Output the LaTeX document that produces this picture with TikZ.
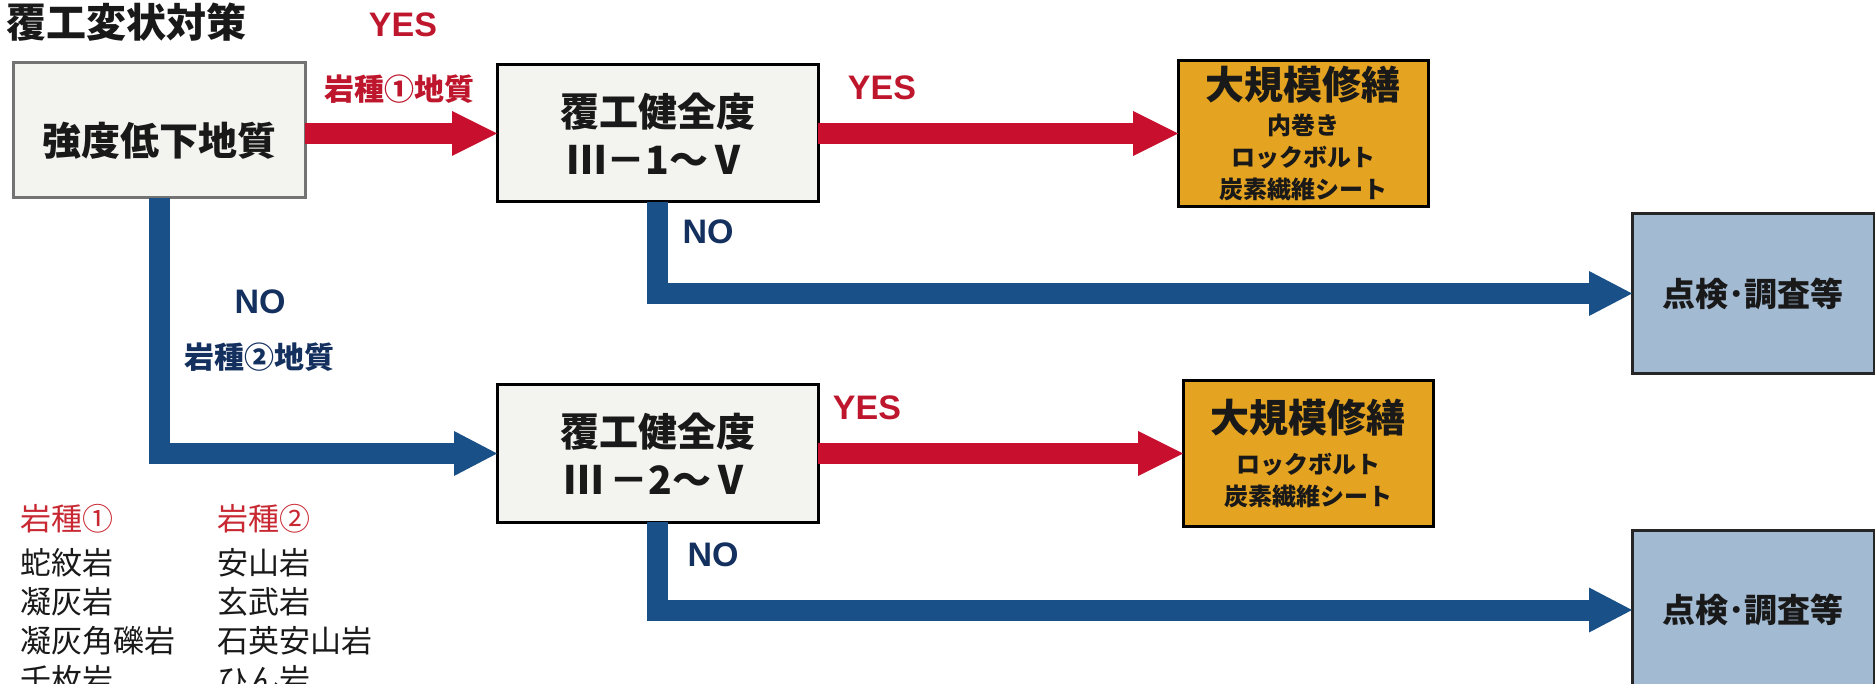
\documentclass[tikz,border=0pt]{standalone}
\usepackage{fontspec}
\setmainfont{Noto Sans CJK JP}[BoldFont={Noto Sans CJK JP Black}]
\newfontfamily\latinsans{Liberation Sans}
\usetikzlibrary{arrows.meta,positioning}
\definecolor{arrowred}{RGB}{200,16,46}
\definecolor{arrowblue}{RGB}{24,80,135}
\definecolor{yesred}{RGB}{190,22,44}
\definecolor{nonavy}{RGB}{20,48,95}
\definecolor{boxfill}{RGB}{243,243,240}
\definecolor{repairorange}{RGB}{228,163,33}
\definecolor{inspblue}{RGB}{163,186,211}
\definecolor{legendred}{RGB}{200,40,50}
\definecolor{textdark}{RGB}{25,25,25}

\begin{document}
\begin{tikzpicture}[x=1pt, y=-1pt,
    plainbox/.style={draw=black, line width=3pt, fill=boxfill, minimum width=321pt, minimum height=137pt, inner sep=0pt, outer sep=0pt, align=center, text=textdark, font=\bfseries\fontsize{39}{48}\selectfont},
    repairbox/.style={draw=black, line width=3pt, fill=repairorange, minimum width=250pt, minimum height=146pt, inner sep=0pt, outer sep=0pt, align=center, text=textdark, font=\bfseries\fontsize{24}{32}\selectfont},
    inspbox/.style={draw=black!85, line width=3pt, fill=inspblue, minimum width=242pt, minimum height=160pt, inner sep=0pt, outer sep=0pt, text=textdark, font=\bfseries\fontsize{33}{33}\selectfont},
    redarrow/.style={draw=arrowred, line width=21pt, -{Triangle[length=45pt, width=45pt, line width=0pt]}},
    bluearrow/.style={draw=arrowblue, line width=21pt, line join=miter, -{Triangle[length=43pt, width=45pt, line width=0pt]}},
    yestext/.style={text=yesred, inner sep=0pt, font=\latinsans\bfseries\fontsize{34}{34}\selectfont},
    notext/.style={text=nonavy, inner sep=0pt, font=\latinsans\bfseries\fontsize{34}{34}\selectfont},
    geotext/.style={inner sep=0pt, font=\bfseries\fontsize{30}{30}\selectfont},
    legend/.style={inner sep=0pt, align=left, text=textdark, font=\fontsize{31}{39}\selectfont}
]
\useasboundingbox (0,0) rectangle (1875,684);

% Title
\node[anchor=west, inner sep=0pt, text=textdark, font=\bfseries\fontsize{40}{40}\selectfont] (title) at (6,22) {覆工変状対策};

% Boxes
\node[plainbox, draw=black!55, minimum width=292pt, minimum height=135pt, text height=50pt, text depth=0pt] (weak) at (159,130.5) {強度低下地質};
\node[plainbox] (sound1) at (657.5,133.5) {覆工健全度\\Ⅲ－1～Ⅴ};
\node[repairbox, right=360pt of sound1] (major1) {{\fontsize{39}{39}\selectfont 大規模修繕}\\[3pt]内巻き\\ロックボルト\\炭素繊維シート};
\node[plainbox, below=183pt of sound1] (sound2) {覆工健全度\\Ⅲ\,－2～Ⅴ};
\node[repairbox, minimum height=145pt, right=365pt of sound2] (major2) {{\fontsize{39}{39}\selectfont 大規模修繕}\\[9pt]ロックボルト\\炭素繊維シート};
\node[inspbox, below right=7pt and 204pt of major1] (insp1) {点検･調査等};
\node[inspbox, below right=4pt and 199pt of major2] (insp2) {点検･調査等};

% Connectors
\draw[redarrow] (weak.east |- sound1) -- (sound1.west);
\draw[redarrow] (sound1.east) -- (sound1.east -| major1.west);
\draw[bluearrow] (sound1.south) |- (insp1.west);
\draw[bluearrow] (weak.south) |- (sound2.west);
\draw[redarrow] (sound2.east) -- (sound2.east -| major2.west);
\draw[bluearrow] (sound2.south) |- (insp2.west);

% Labels
\node[yestext] (yes1) at (403,25) {YES};
\node[geotext, text=yesred] (geo1) at (399,89) {岩種①地質};
\node[yestext] (yes2) at (882,88) {YES};
\node[notext] (no1) at (708,232) {NO};
\node[notext] (no2) at (260,302) {NO};
\node[geotext, text=nonavy] (geo2) at (259,357) {岩種②地質};
\node[yestext] (yes3) at (867,408) {YES};
\node[notext] (no3) at (713,555) {NO};

% Rock types
\node[legend, anchor=north west] (rocks1) at (20,504) {\textcolor{legendred}{岩種①}\\[5pt]蛇紋岩\\凝灰岩\\凝灰角礫岩\\千枚岩};
\node[legend, anchor=north west] (rocks2) at (217,504) {\textcolor{legendred}{岩種②}\\[5pt]安山岩\\玄武岩\\石英安山岩\\ひん岩};

\end{tikzpicture}
\end{document}
